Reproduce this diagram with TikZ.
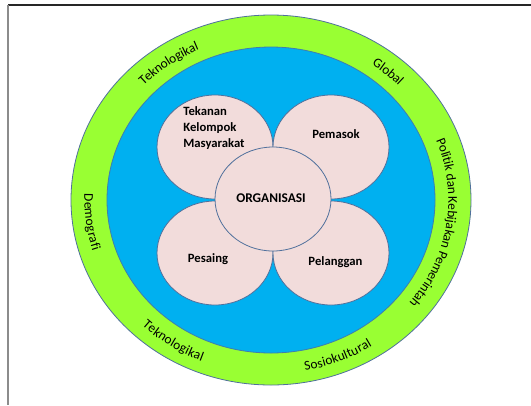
\documentclass[tikz,border=0pt]{standalone}
\usepackage{fontspec}
\setmainfont{Carlito}
\usetikzlibrary{shapes.geometric,decorations.text}

\definecolor{ringgreen}{HTML}{99FF33}
\definecolor{innerblue}{HTML}{00B0F0}
\definecolor{petalpink}{HTML}{F2DCDB}
\definecolor{outline}{HTML}{50709C}

\newcommand{\ringfont}{\fontsize{10}{12}\selectfont}
\tikzstyle{petal} = [ellipse,draw=outline,fill=petalpink,line width=0.6pt,minimum width=87pt,minimum height=78pt,inner sep=0pt]
\tikzstyle{lbl} = [font=\fontsize{9.5}{12}\selectfont\bfseries,align=left,inner sep=0pt]
\tikzset{ringtext/.style={decorate,decoration={text along path,text align=center,raise=-3.5pt,text={|\ringfont|#1}}}}

\begin{document}
\begin{tikzpicture}[x=0.75pt,y=0.75pt]
   \useasboundingbox (0,0) rectangle (531,-405);
   \draw[black!85,line width=1.2pt] (8,-5) -- (531,-5);
   \draw[black!45,line width=0.8pt] (8,-5) -- (8,-405);

   % environment rings
   \draw[fill=ringgreen,draw=outline,line width=0.6pt] (271,-200) ellipse [x radius=200,y radius=185];
   \draw[fill=innerblue,draw=outline!80!innerblue,line width=0.6pt] (271,-200) ellipse [x radius=164,y radius=153];

   \begin{scope}[shift={(271,-200)}]
      \path[ringtext=Teknologikal] (155.3:182 and 169) arc[start angle=155.3,end angle=95.3,x radius=182,y radius=169];
      \path[ringtext=Global] (79.2:182 and 169) arc[start angle=79.2,end angle=19.2,x radius=182,y radius=169];
      \path[ringtext=Politik dan Kebijakan Pemerintah] (39.4:182 and 169) arc[start angle=39.4,end angle=-56.6,x radius=182,y radius=169];
      \path[ringtext=Demografi] (160.4:182 and 169) arc[start angle=160.4,end angle=214.4,x radius=182,y radius=169];
      \path[ringtext=Teknologikal] (206.8:182 and 169) arc[start angle=206.8,end angle=266.8,x radius=182,y radius=169];
      \path[ringtext=Sosiokultural] (262:182 and 169) arc[start angle=262,end angle=322,x radius=182,y radius=169];
   \end{scope}

   % petals round the organisation
   \node[petal] (tekanan) at (215,-147) {};
   \node[petal] (pemasok) at (331,-147) {};
   \node[petal] (pesaing) at (215,-253) {};
   \node[petal] (pelanggan) at (331,-253) {};
   \node[petal] (org) at (273,-199) {};

   \node[lbl] (tekanantxt) at (214,-128) {Tekanan\\Kelompok\\Masyarakat};
   \node[lbl] (pemasoktxt) at (336,-134) {Pemasok};
   \node[lbl] (pesaingtxt) at (208,-259) {Pesaing};
   \node[lbl] (pelanggantxt) at (335.5,-262) {Pelanggan};
   \node[lbl,font=\fontsize{10}{12}\selectfont\bfseries] (orgtxt) at (271,-198) {ORGANISASI};
\end{tikzpicture}
\end{document}
